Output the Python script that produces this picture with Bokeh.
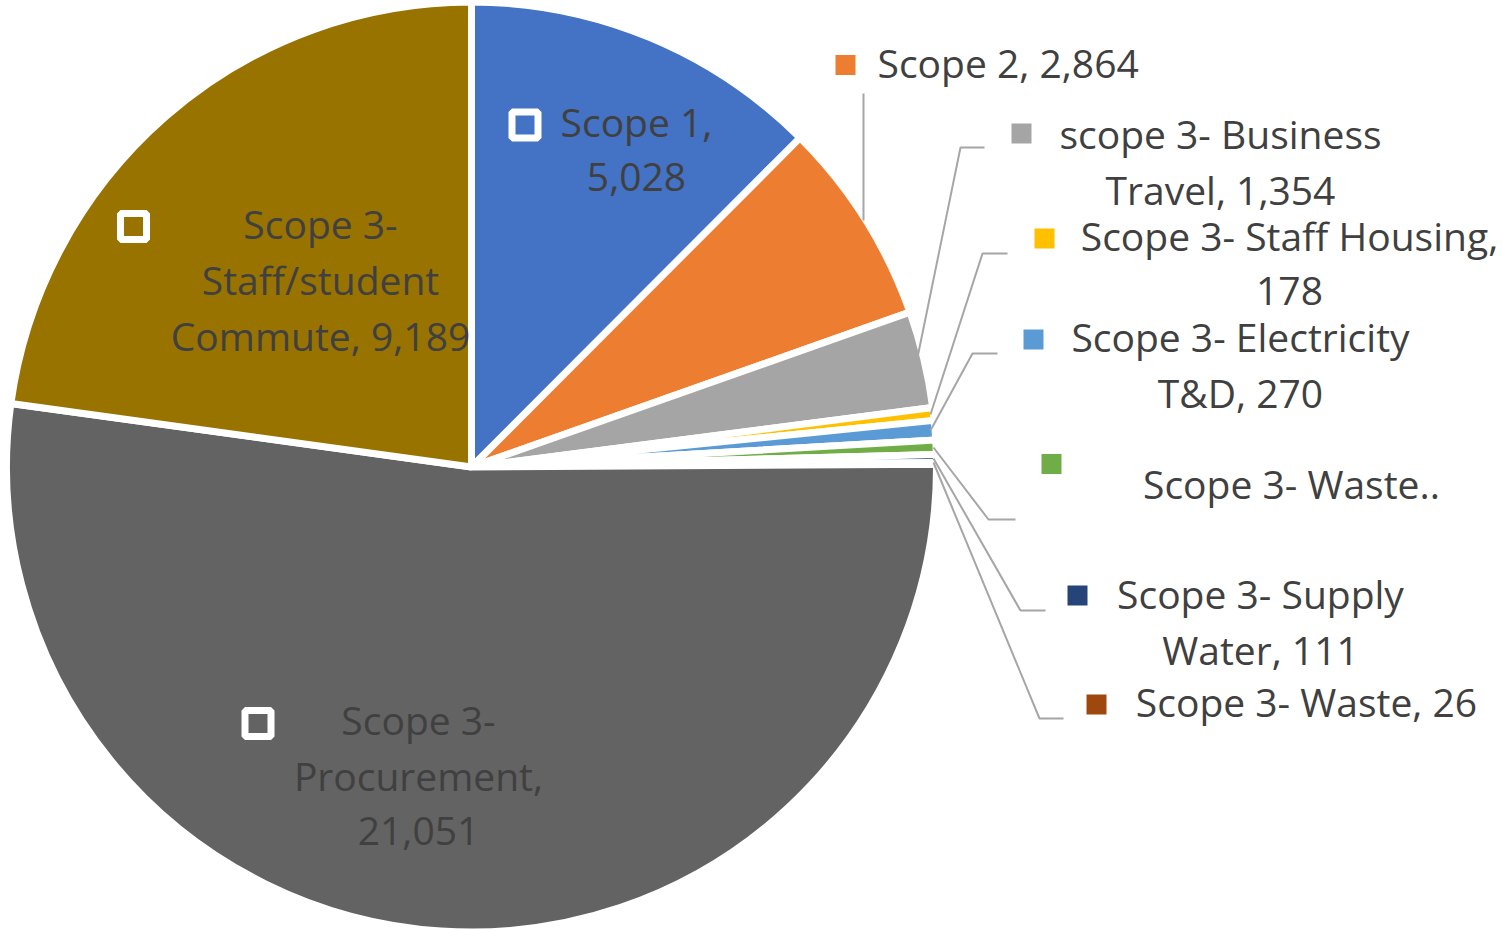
import numpy as np
from bokeh.plotting import figure
from bokeh.models import ColumnDataSource, Range1d
from bokeh.embed import file_html
from bokeh.resources import INLINE
from bokeh.core.properties import value

# ---------------- data ----------------
categories = ["Scope 1", "Scope 2", "scope 3- Business Travel", "Scope 3- Staff Housing",
              "Scope 3- Electricity T&D", "Scope 3- Waste..", "Scope 3- Supply Water",
              "Scope 3- Waste", "Scope 3- Procurement", "Scope 3- Staff/student Commute"]
values = [5028, 2864, 1354, 178, 270, 200, 111, 26, 21051, 9189]
colors = ["#4472C4", "#ED7D31", "#A5A5A5", "#FFC000", "#5B9BD5", "#70AD47",
          "#264478", "#9E480E", "#636363", "#997300"]
label_lines = [
    ["Scope 1,", "5,028"],
    ["Scope 2, 2,864"],
    ["scope 3- Business", "Travel, 1,354"],
    ["Scope 3- Staff Housing,", "178"],
    ["Scope 3- Electricity", "T&D, 270"],
    ["Scope 3- Waste.."],
    ["Scope 3- Supply", "Water, 111"],
    ["Scope 3- Waste, 26"],
    ["Scope 3-", "Procurement,", "21,051"],
    ["Scope 3-", "Staff/student", "Commute, 9,189"],
]

# ---------------- layout ----------------
W, H = 1503, 929
def Y(py):
    return H - py

p = figure(width=W, height=H, x_range=Range1d(0, W), y_range=Range1d(0, H),
           output_backend="svg", toolbar_location=None, min_border=0)
p.axis.visible = False
p.grid.visible = False
p.outline_line_color = None
p.background_fill_color = "white"

cx, cy, r = 471, Y(466.5), 465
vals = np.array(values, dtype=float)
cum = np.concatenate([[0.0], np.cumsum(vals)])
frac = cum / cum[-1]
start = np.pi / 2 - 2 * np.pi * frac[:-1]
end = np.pi / 2 - 2 * np.pi * frac[1:]
src = ColumnDataSource(dict(start=start, end=end, color=colors, cat=categories, val=values))
p.wedge(x=cx, y=cy, radius=r, start_angle="start", end_angle="end", direction="clock",
        fill_color="color", line_color="white", line_width=7, source=src)

# leader lines
leaders = {
    1: [(863, 93), (863, 220)],
    2: [(984, 147), (960, 147), (917, 357)],
    3: [(1007, 253), (982, 253), (930, 414)],
    4: [(997, 353), (972, 353), (930, 430)],
    5: [(933, 447), (988, 519), (1015, 519)],
    6: [(933, 458), (1020, 610), (1045, 610)],
    7: [(933, 462), (1039, 718), (1063, 718)],
}
p.multi_line(xs=[[pt[0] for pt in v] for v in leaders.values()],
             ys=[[Y(pt[1]) for pt in v] for v in leaders.values()],
             line_color="#A6A6A6", line_width=2)

# label keys: (index, x, y, inside)
keys = [(0, 524.5, 124.5, True), (9, 133, 226, True), (8, 257.5, 723, True),
        (1, 845, 64.5, False), (2, 1021, 133, False), (3, 1044, 238, False),
        (4, 1033, 339, False), (5, 1051, 463.5, False), (6, 1077, 595, False),
        (7, 1096, 704, False)]
for i, kx, ky, inside in keys:
    if inside:
        p.rect(x=kx, y=Y(ky), width=26, height=26, fill_color=colors[i],
               line_color="white", line_width=7)
    else:
        p.rect(x=kx, y=Y(ky), width=20, height=20, fill_color=colors[i], line_color=None)

# label text: (index, x, first cap-center y, align)
text_pos = [(0, 636, 123, "center"), (9, 320, 225, "center"), (8, 418, 721, "center"),
            (1, 877, 64, "left"), (2, 1220, 135, "center"), (3, 1289, 237, "center"),
            (4, 1240, 338, "center"), (5, 1291, 485, "center"), (6, 1260, 595, "center"),
            (7, 1306, 703, "center")]
LS = 56
for i, tx, ty, al in text_pos:
    lines = label_lines[i]
    xs = [tx] * len(lines)
    ys = [Y(ty - 2.5 + k * LS) for k in range(len(lines))]
    p.text(x=xs, y=ys, text=lines, text_align=al, text_baseline="alphabetic",
           text_font=value("Open Sans"), text_font_size="39px", text_color="#404040")

open("out.html", "w").write(file_html(p, INLINE))
